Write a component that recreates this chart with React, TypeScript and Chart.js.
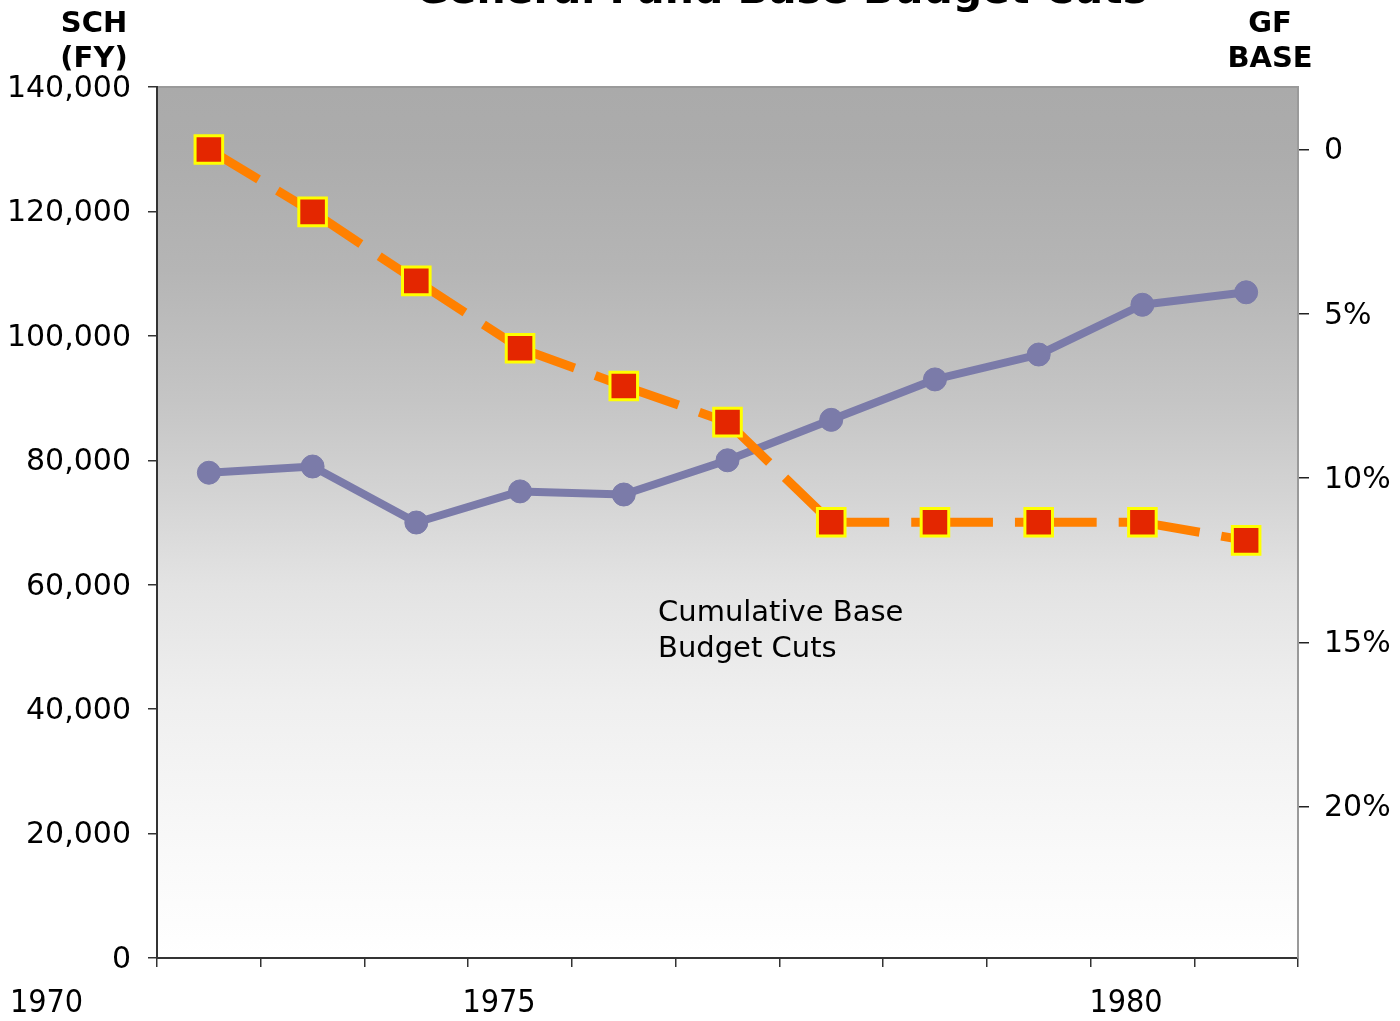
import React, { useEffect, useRef } from 'react';
import { Chart, registerables } from 'chart.js';

Chart.register(...registerables);

// ---- Data ----
const categories = ['1971', '1972', '1973', '1974', '1975', '1976', '1977', '1978', '1979', '1980', '1981'];
const schValues = [78000, 79000, 70000, 75000, 74500, 80000, 86500, 93000, 97000, 105000, 107000];
const cutPercentValues = [0, 1.9, 4.0, 6.05, 7.2, 8.3, 11.35, 11.35, 11.35, 11.35, 11.9];
const leftTickValues = [0, 20000, 40000, 60000, 80000, 100000, 120000, 140000];
const rightTickValues = [0, 5, 10, 15, 20];
const rightTickLabels = ['0', '5%', '10%', '15%', '20%'];
const yearLabels = ['1970', '1975', '1980'];
const titleText = 'General Fund Base Budget Cuts';
const leftAxisTitle = ['SCH', '(FY)'];
const rightAxisTitle = ['GF', 'BASE'];
const annotationLines = ['Cumulative Base', 'Budget Cuts'];

const FONT = '"DejaVu Sans", Verdana, sans-serif';

const decorPlugin = {
  id: 'decor',
  beforeDraw(chart: any) {
    const { ctx, chartArea: a } = chart;
    ctx.save();
    ctx.fillStyle = '#ffffff';
    ctx.fillRect(0, 0, chart.width, chart.height);
    const g = ctx.createLinearGradient(0, a.top, 0, a.bottom);
    g.addColorStop(0, '#aaaaaa');
    g.addColorStop(0.07, '#acacac');
    g.addColorStop(0.21, '#b5b5b5');
    g.addColorStop(0.36, '#c5c5c5');
    g.addColorStop(0.463, '#d3d3d3');
    g.addColorStop(0.572, '#e3e3e3');
    g.addColorStop(0.704, '#efefef');
    g.addColorStop(0.876, '#f9f9f9');
    g.addColorStop(1, '#ffffff');
    ctx.fillStyle = g;
    ctx.fillRect(a.left, a.top, a.right - a.left, a.bottom - a.top);
    ctx.strokeStyle = '#9a9a9a';
    ctx.lineWidth = 2;
    ctx.beginPath();
    ctx.moveTo(a.left, a.top);
    ctx.lineTo(a.right, a.top);
    ctx.stroke();
    ctx.restore();
  },
  afterDraw(chart: any) {
    const { ctx } = chart;
    ctx.save();
    ctx.fillStyle = '#000000';
    ctx.textBaseline = 'alphabetic';
    // title (cut off at top)
    ctx.textAlign = 'center';
    ctx.font = `bold 41px ${FONT}`;
    ctx.fillText(titleText, 781, 3);
    // axis titles
    ctx.font = `bold 29px ${FONT}`;
    ctx.fillText(leftAxisTitle[0], 94, 32);
    ctx.fillText(leftAxisTitle[1], 94, 67);
    ctx.fillText(rightAxisTitle[0], 1270, 32);
    ctx.fillText(rightAxisTitle[1], 1270, 67);
    // year labels
    ctx.font = `32px "DejaVu Sans Condensed", ${FONT}`;
    const yearX = [46.5, 499, 1126];
    yearLabels.forEach((t, i) => ctx.fillText(t, yearX[i], 1012));
    // annotation
    ctx.textAlign = 'left';
    ctx.font = `29px ${FONT}`;
    ctx.fillText(annotationLines[0], 658, 621);
    ctx.fillText(annotationLines[1], 658, 657);
    ctx.restore();
  },
};

export default function App() {
  const canvasRef = useRef<HTMLCanvasElement | null>(null);

  useEffect(() => {
    const canvas = canvasRef.current;
    if (!canvas) return;
    const chart = new Chart(canvas, {
      type: 'line',
      data: {
        labels: categories,
        datasets: [
          {
            label: 'Cumulative Base Budget Cuts',
            data: cutPercentValues,
            yAxisID: 'yRight',
            borderColor: '#ff8000',
            borderWidth: 9,
            borderDash: [58, 22],
            borderCapStyle: 'butt',
            borderJoinStyle: 'miter',
            segment: {
              borderDashOffset: (c: any) => (c.p0DataIndex % 2) * 0.001,
            },
            pointStyle: 'rect',
            pointRadius: 19.5,
            pointHoverRadius: 19.5,
            pointBackgroundColor: '#e42600',
            pointBorderColor: '#ffff00',
            pointBorderWidth: 3,
            tension: 0,
          },
          {
            label: 'SCH (FY)',
            data: schValues,
            yAxisID: 'yLeft',
            borderColor: '#7b7ba9',
            borderWidth: 8,
            borderJoinStyle: 'round',
            pointStyle: 'circle',
            pointRadius: 11.5,
            pointHoverRadius: 11.5,
            pointBackgroundColor: '#7b7ba9',
            pointBorderColor: '#7b7ba9',
            pointBorderWidth: 1,
            tension: 0,
          },
        ],
      },
      options: {
        responsive: false,
        animation: false,
        devicePixelRatio: 1,
        layout: { padding: { top: 87, left: 0, right: 0, bottom: 0 } },
        plugins: {
          legend: { display: false },
          title: { display: false },
          tooltip: { enabled: false },
        },
        events: [],
        scales: {
          x: {
            type: 'category',
            offset: true,
            grid: {
              display: true,
              drawOnChartArea: false,
              drawTicks: true,
              tickLength: 9,
              color: '#333333',
              tickColor: '#333333',
              lineWidth: 1.5,
              offset: true,
            },
            border: { display: true, color: '#333333', width: 2 },
            ticks: { display: false },
            afterFit(scale: any) {
              scale.height = 63;
            },
          },
          yLeft: {
            type: 'linear',
            position: 'left',
            min: 0,
            max: 140000,
            afterBuildTicks(scale: any) {
              scale.ticks = leftTickValues.map((v) => ({ value: v }));
            },
            ticks: {
              padding: 17,
              labelOffset: 2,
              color: '#000000',
              font: { family: FONT, size: 30 },
              callback: (v: any) => Number(v).toLocaleString('en-US'),
            },
            grid: {
              drawOnChartArea: false,
              drawTicks: true,
              tickLength: 9,
              color: '#333333',
              tickColor: '#333333',
              lineWidth: 1.5,
            },
            border: { display: true, color: '#333333', width: 2 },
            afterFit(scale: any) {
              scale.width = 157;
            },
          },
          yRight: {
            type: 'linear',
            position: 'right',
            reverse: true,
            min: -1.9,
            max: 24.61,
            afterBuildTicks(scale: any) {
              scale.ticks = rightTickValues.map((v) => ({ value: v }));
            },
            ticks: {
              padding: 15,
              labelOffset: 2,
              color: '#000000',
              font: { family: FONT, size: 30 },
              callback: (_v: any, i: number) => rightTickLabels[i],
            },
            grid: {
              drawOnChartArea: false,
              drawTicks: true,
              tickLength: 11,
              color: '#222222',
              tickColor: '#222222',
              lineWidth: 1.5,
            },
            border: { display: true, color: '#9a9a9a', width: 2 },
            afterFit(scale: any) {
              scale.width = 102;
            },
          },
        },
      },
      plugins: [decorPlugin],
    } as any);
    return () => chart.destroy();
  }, []);

  return (
    <div style={{ position: 'absolute', left: 0, top: 0, width: 1400, height: 1021, overflow: 'hidden', background: '#fff' }}>
      <canvas ref={canvasRef} width={1400} height={1021} style={{ display: 'block', width: 1400, height: 1021 }} />
    </div>
  );
}
